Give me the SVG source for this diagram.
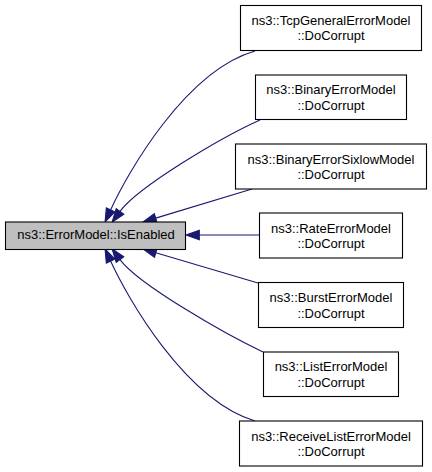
<svg xmlns="http://www.w3.org/2000/svg" width="432" height="472" viewBox="0 0 432 472">
<style>
.box{fill:#ffffff;stroke:#000000;stroke-width:1.1}
.main{fill:#bfbfbf;stroke:#000000;stroke-width:1.1}
text{font-family:"Liberation Sans",Arial,sans-serif;font-size:13px;fill:#000000;text-anchor:middle}
.edge{fill:none;stroke:#191970;stroke-width:1.1;marker-end:url(#arr)}
</style>
<defs>
<marker id="arr" markerUnits="userSpaceOnUse" markerWidth="16" markerHeight="12" refX="0" refY="5" orient="auto" overflow="visible">
<path d="M0,0.3 L13.3,5 L0,9.7 z" fill="#191970" stroke="#191970" stroke-width="1.1"/>
</marker>
</defs>
<rect width="432" height="472" fill="#ffffff"/>
<g id="connectors">
<path class="edge" d="M255,51 C185,71 127,174 110.6,209.9"/>
<path class="edge" d="M260,120 C220,138 138,187 120,211.4"/>
<path class="edge" d="M252,189 L155.7,218.1"/>
<path class="edge" d="M259,235 L199.3,235"/>
<path class="edge" d="M258,283 L155.8,252.8"/>
<path class="edge" d="M263,352 C223,333 138,284 120,259.6"/>
<path class="edge" d="M255,421 C185,400 127,297 110.6,261.1"/>
</g>
<g id="main">
<rect class="main" x="5.5" y="222" width="180" height="27.5"/>
<text x="96" y="239">ns3::ErrorModel::IsEnabled</text>
</g>
<g id="n1">
<rect class="box" x="240.5" y="5.5" width="181" height="45"/>
<text x="331" y="24.5">ns3::TcpGeneralErrorModel</text>
<text x="331" y="40">::DoCorrupt</text>
</g>
<g id="n2">
<rect class="box" x="255.5" y="75" width="151" height="44.5"/>
<text x="331" y="94">ns3::BinaryErrorModel</text>
<text x="331" y="109.5">::DoCorrupt</text>
</g>
<g id="n3">
<rect class="box" x="235.5" y="144" width="191" height="45"/>
<text x="331" y="163.5">ns3::BinaryErrorSixlowModel</text>
<text x="331" y="179">::DoCorrupt</text>
</g>
<g id="n4">
<rect class="box" x="259.5" y="213" width="143" height="45"/>
<text x="331" y="232.5">ns3::RateErrorModel</text>
<text x="331" y="248">::DoCorrupt</text>
</g>
<g id="n5">
<rect class="box" x="258.5" y="282.5" width="145" height="45"/>
<text x="331" y="302">ns3::BurstErrorModel</text>
<text x="331" y="317.5">::DoCorrupt</text>
</g>
<g id="n6">
<rect class="box" x="263.5" y="352" width="135" height="44.5"/>
<text x="331" y="371">ns3::ListErrorModel</text>
<text x="331" y="386.5">::DoCorrupt</text>
</g>
<g id="n7">
<rect class="box" x="239.5" y="421" width="183" height="45"/>
<text x="331" y="440.5">ns3::ReceiveListErrorModel</text>
<text x="331" y="456">::DoCorrupt</text>
</g>
</svg>
